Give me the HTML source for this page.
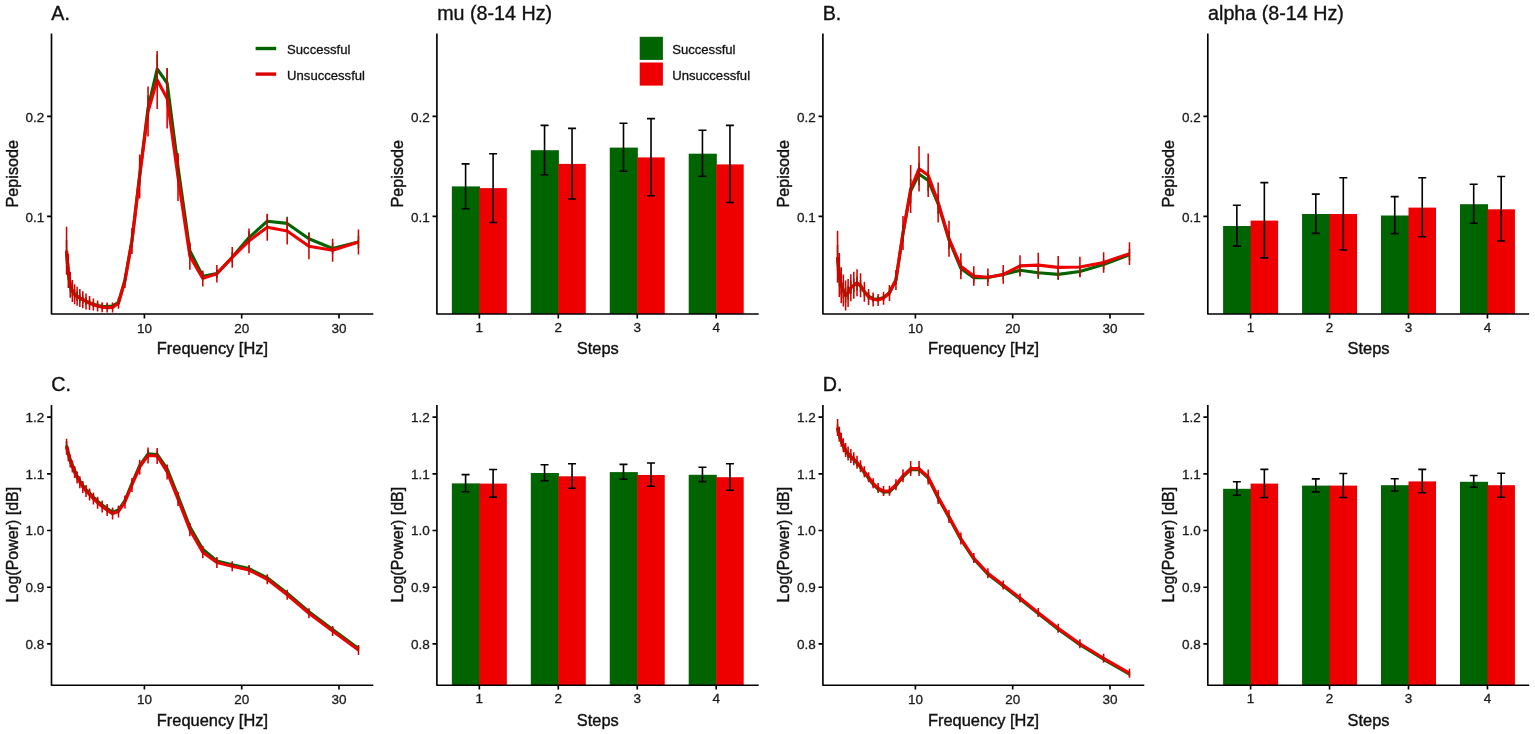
<!DOCTYPE html>
<html lang="en">
<head>
<meta charset="utf-8">
<title>Pepisode and power spectra: successful vs unsuccessful</title>
<style>
html,body{margin:0;padding:0;background:#fff;}
body{width:1535px;height:734px;overflow:hidden;}
svg{display:block;}
svg text{font-family:"Liberation Sans",sans-serif;fill:#111;}
.t{font-size:13.1px;fill:#111;stroke:#111;stroke-width:0.3px;}
.k{font-size:13.5px;fill:#1a1a1a;stroke:#1a1a1a;stroke-width:0.3px;}
.a{font-size:16.4px;stroke:#111;stroke-width:0.4px;}
.a2{font-size:16px;stroke:#111;stroke-width:0.4px;}
.a3{font-size:16.2px;stroke:#111;stroke-width:0.4px;}
.h{font-size:19.7px;stroke:#111;stroke-width:0.35px;}
</style>
</head>
<body>
<svg width="1535" height="734" viewBox="0 0 1535 734">
<rect width="100%" height="100%" fill="#fff"/>
<polyline points="66.56,252 68.32,272 70.24,285 72.34,291 74.62,294.3 77.11,296.3 79.83,298 82.79,299.5 86.02,301.2 89.54,302.8 93.38,304.3 97.57,305.6 102.14,306.4 107.12,306.5 112.56,306 118.48,302.3 124.94,280 131.99,240 139.67,175 148.05,108 157.18,69 167.15,83 178.01,167 189.86,250.7 202.78,276.2 216.87,273.6 232.24,257.2 248.99,237.6 267.26,221.2 287.19,223.4 308.92,238.7 332.62,248.5 358.46,242" fill="none" stroke="#006400" stroke-width="3.1" stroke-linejoin="round" stroke-linecap="butt"/>
<polyline points="66.56,250.7 68.32,271.1 70.24,284.8 72.34,290.9 74.62,294.3 77.11,296.3 79.83,298.1 82.79,299.7 86.02,301.4 89.54,303 93.38,304.6 97.57,306.1 102.14,307.2 107.12,307.6 112.56,307.4 118.48,303.3 124.94,281 131.99,241 139.67,176.5 148.05,111.5 157.18,80 167.15,98.4 178.01,177 189.86,256.1 202.78,278.4 216.87,273.8 232.24,257.4 248.99,240.9 267.26,227.3 287.19,231.1 308.92,246.3 332.62,250.2 358.46,242" fill="none" stroke="#ee0000" stroke-width="3.1" stroke-linejoin="round" stroke-linecap="butt"/>
<path d="M66.56 240V264M68.32 263.5V280.5M70.24 278.5V291.5M72.34 285.5V296.5M74.62 289.3V299.3M77.11 291.55V301.05M79.83 293.5V302.5M82.79 295.25V303.75M86.02 297.2V305.2M89.54 299.3V306.3M93.38 301.3V307.3M97.57 302.85V308.35M102.14 303.9V308.9M107.12 304V309M112.56 303.5V308.5M118.48 299.55V305.05M124.94 276.5V283.5M131.99 233.5V246.5M139.67 164V186M148.05 95.5V120.5M157.18 54.5V83.5M167.15 68V98M178.01 155V179M189.86 243.9V257.5M202.78 272.2V280.2M216.87 269.25V277.95M232.24 252V262.4M248.99 231.45V243.75M267.26 214.45V227.95M287.19 216.7V230.1M308.92 232.2V245.2M332.62 242.75V254.25M358.46 235.75V248.25" stroke="#006400" stroke-width="1.55" fill="none"/>
<path d="M66.56 226.7V274.7M68.32 254.1V288.1M70.24 271.8V297.8M72.34 279.9V301.9M74.62 284.3V304.3M77.11 286.8V305.8M79.83 289.1V307.1M82.79 291.2V308.2M86.02 293.4V309.4M89.54 296V310M93.38 298.6V310.6M97.57 300.6V311.6M102.14 302.2V312.2M107.12 302.6V312.6M112.56 302.4V312.4M118.48 297.8V308.8M124.94 274V288M131.99 228V254M139.67 154.5V198.5M148.05 86.5V136.5M157.18 51V109M167.15 68.4V128.4M178.01 153V201M189.86 242.5V269.7M202.78 270.4V286.4M216.87 265.1V282.5M232.24 247V267.8M248.99 228.6V253.2M267.26 213.8V240.8M287.19 217.7V244.5M308.92 233.3V259.3M332.62 238.7V261.7M358.46 229.5V254.5" stroke="#d40000" stroke-width="1.55" fill="none"/>
<path d="M51.5 33.4V314H373.3" fill="none" stroke="#000" stroke-width="1.65" stroke-linejoin="round"/>
<path d="M47.1 116.3H51.5M47.1 216.4H51.5" stroke="#000" stroke-width="1.65" fill="none"/>
<text x="44.4" y="121.55" text-anchor="end" class="k">0.2</text>
<text x="44.4" y="221.65" text-anchor="end" class="k">0.1</text>
<path d="M144.4 314V318.4M241.7 314V318.4M339 314V318.4" stroke="#000" stroke-width="1.65" fill="none"/>
<text x="144.4" y="332.6" text-anchor="middle" class="k">10</text>
<text x="241.7" y="332.6" text-anchor="middle" class="k">20</text>
<text x="339" y="332.6" text-anchor="middle" class="k">30</text>
<text x="212.4" y="354.3" text-anchor="middle" class="a">Frequency [Hz]</text>
<text transform="translate(17.5 173.7) rotate(-90)" text-anchor="middle" class="a3">Pepisode</text>
<text x="51.3" y="19.8" class="h">A.</text>
<polyline points="837.56,258 839.32,275.5 841.24,285.5 843.34,290.4 845.62,295 848.11,292.5 850.83,287.5 853.79,285.5 857.02,283.5 860.54,286 864.38,291.5 868.57,296 873.14,298.8 878.12,299.3 883.56,297.6 889.48,292.5 895.94,279.8 902.99,233.5 910.67,191 919.05,174 928.18,180.5 938.15,204 949.01,240 960.86,268.5 973.78,277.7 987.87,277.6 1003.24,274.6 1019.99,270.3 1038.26,272.8 1058.19,274.4 1079.92,271.5 1103.62,264.6 1129.46,254.8" fill="none" stroke="#006400" stroke-width="3.1" stroke-linejoin="round" stroke-linecap="butt"/>
<polyline points="837.56,256.8 839.32,274.9 841.24,285.2 843.34,290.4 845.62,295.6 848.11,293 850.83,287.8 853.79,285.2 857.02,282.7 860.54,285.2 864.38,291.7 868.57,296.9 873.14,299.5 878.12,300 883.56,298.2 889.48,293 895.94,280 902.99,233 910.67,189 919.05,168.8 928.18,175.3 938.15,202.4 949.01,238.7 960.86,266.2 973.78,276 987.87,277.2 1003.24,274.4 1019.99,265.9 1038.26,265.1 1058.19,267.4 1079.92,267 1103.62,262.5 1129.46,253.6" fill="none" stroke="#ee0000" stroke-width="3.1" stroke-linejoin="round" stroke-linecap="butt"/>
<path d="M837.56 245V271M839.32 264.5V286.5M841.24 276.5V294.5M843.34 282.4V298.4M845.62 287.5V302.5M848.11 285.5V299.5M850.83 280.75V294.25M853.79 278.75V292.25M857.02 276.75V290.25M860.54 280V292M864.38 286.5V296.5M868.57 292V300M873.14 295.3V302.3M878.12 296.3V302.3M883.56 294.35V300.85M889.48 288.5V296.5M895.94 274.8V284.8M902.99 225V242M910.67 179V203M919.05 162.7V185.3M928.18 169.65V191.35M938.15 194V214M949.01 231V249M960.86 262V275M973.78 272.85V282.55M987.87 273.25V281.95M1003.24 269.95V279.25M1019.99 265V275.6M1038.26 266.65V278.95M1058.19 268.7V280.1M1079.92 266.4V276.6M1103.62 259.5V269.7M1129.46 249.1V260.5" stroke="#006400" stroke-width="1.55" fill="none"/>
<path d="M837.56 230.8V282.8M839.32 252.9V296.9M841.24 267.2V303.2M843.34 274.4V306.4M845.62 280.6V310.6M848.11 279V307M850.83 274.3V301.3M853.79 271.7V298.7M857.02 269.2V296.2M860.54 273.2V297.2M864.38 281.7V301.7M868.57 288.9V304.9M873.14 292.5V306.5M878.12 294V306M883.56 291.7V304.7M889.48 285V301M895.94 270V290M902.99 216V250M910.67 165V213M919.05 146.2V191.4M928.18 153.6V197M938.15 182.4V222.4M949.01 220.7V256.7M960.86 253.2V279.2M973.78 266.3V285.7M987.87 268.5V285.9M1003.24 265.1V283.7M1019.99 255.3V276.5M1038.26 252.8V277.4M1058.19 256V278.8M1079.92 256.8V277.2M1103.62 252.3V272.7M1129.46 242.2V265" stroke="#d40000" stroke-width="1.55" fill="none"/>
<path d="M822.9 33.4V314H1144.3" fill="none" stroke="#000" stroke-width="1.65" stroke-linejoin="round"/>
<path d="M818.5 116.3H822.9M818.5 216.4H822.9" stroke="#000" stroke-width="1.65" fill="none"/>
<text x="815.8" y="121.55" text-anchor="end" class="k">0.2</text>
<text x="815.8" y="221.65" text-anchor="end" class="k">0.1</text>
<path d="M915.4 314V318.4M1012.7 314V318.4M1110 314V318.4" stroke="#000" stroke-width="1.65" fill="none"/>
<text x="915.4" y="332.6" text-anchor="middle" class="k">10</text>
<text x="1012.7" y="332.6" text-anchor="middle" class="k">20</text>
<text x="1110" y="332.6" text-anchor="middle" class="k">30</text>
<text x="983.6" y="354.3" text-anchor="middle" class="a">Frequency [Hz]</text>
<text transform="translate(788.9 173.7) rotate(-90)" text-anchor="middle" class="a3">Pepisode</text>
<text x="822.7" y="19.8" class="h">B.</text>
<polyline points="66.56,445.3 68.32,452.8 70.24,459.6 72.34,465.1 74.62,470.5 77.11,476 79.83,480.7 82.79,485.5 86.02,489.6 89.54,493 93.38,497.1 97.57,501.2 102.14,505 107.12,508.6 112.56,512.1 118.48,510 124.94,500.5 131.99,483.4 139.67,465.7 148.05,453.9 157.18,454.5 167.15,468.9 178.01,496.1 189.86,526.8 202.78,549.2 216.87,561 232.24,564.7 248.99,568.6 267.26,577.8 287.19,593.2 308.92,611.7 332.62,629.6 358.46,648.6" fill="none" stroke="#006400" stroke-width="3.1" stroke-linejoin="round" stroke-linecap="butt"/>
<polyline points="66.56,446.8 68.32,454.3 70.24,461.1 72.34,466.6 74.62,472 77.11,477.5 79.83,482.2 82.79,487 86.02,491.1 89.54,494.5 93.38,498.6 97.57,502.7 102.14,506.5 107.12,510.1 112.56,513.6 118.48,511.5 124.94,502 131.99,484.9 139.67,467.2 148.05,455.4 157.18,456 167.15,471.9 178.01,499.1 189.86,529.8 202.78,552.2 216.87,562.5 232.24,566.2 248.99,570.1 267.26,579.3 287.19,594.7 308.92,613.2 332.62,631.1 358.46,650.1" fill="none" stroke="#ee0000" stroke-width="3.1" stroke-linejoin="round" stroke-linecap="butt"/>
<path d="M66.56 441.3V449.3M68.32 449.3V456.3M70.24 456.35V462.85M72.34 462.1V468.1M74.62 467.5V473.5M77.11 473V479M79.83 477.7V483.7M82.79 482.5V488.5M86.02 486.6V492.6M89.54 490V496M93.38 494.1V500.1M97.57 498.2V504.2M102.14 502V508M107.12 505.6V511.6M112.56 509.1V515.1M118.48 507V513M124.94 497.25V503.75M131.99 479.9V486.9M139.67 461.95V469.45M148.05 449.9V457.9M157.18 450.5V458.5M167.15 465.15V472.65M178.01 492.6V499.6M189.86 523.55V530.05M202.78 546.2V552.2M216.87 558.25V563.75M232.24 562.2V567.2M248.99 566.1V571.1M267.26 575.3V580.3M287.19 590.7V595.7M308.92 609.2V614.2M332.62 627.1V632.1M358.46 646.1V651.1" stroke="#006400" stroke-width="1.55" fill="none"/>
<path d="M66.56 438.8V454.8M68.32 447.3V461.3M70.24 454.6V467.6M72.34 460.6V472.6M74.62 466V478M77.11 471.5V483.5M79.83 476.2V488.2M82.79 481V493M86.02 485.1V497.1M89.54 488.5V500.5M93.38 492.6V504.6M97.57 496.7V508.7M102.14 500.5V512.5M107.12 504.1V516.1M112.56 507.6V519.6M118.48 505.5V517.5M124.94 495.5V508.5M131.99 477.9V491.9M139.67 459.7V474.7M148.05 447.4V463.4M157.18 448V464M167.15 464.4V479.4M178.01 492.1V506.1M189.86 523.3V536.3M202.78 546.2V558.2M216.87 557V568M232.24 561.2V571.2M248.99 565.1V575.1M267.26 574.3V584.3M287.19 589.7V599.7M308.92 608.2V618.2M332.62 626.1V636.1M358.46 645.1V655.1" stroke="#d40000" stroke-width="1.55" fill="none"/>
<path d="M51.5 405V685.2H373.3" fill="none" stroke="#000" stroke-width="1.65" stroke-linejoin="round"/>
<path d="M47.1 417.1H51.5M47.1 473.9H51.5M47.1 530.5H51.5M47.1 587.2H51.5M47.1 643.9H51.5" stroke="#000" stroke-width="1.65" fill="none"/>
<text x="44.4" y="421.95" text-anchor="end" class="k">1.2</text>
<text x="44.4" y="478.75" text-anchor="end" class="k">1.1</text>
<text x="44.4" y="535.35" text-anchor="end" class="k">1.0</text>
<text x="44.4" y="592.05" text-anchor="end" class="k">0.9</text>
<text x="44.4" y="648.75" text-anchor="end" class="k">0.8</text>
<path d="M144.4 685.2V689.6M241.7 685.2V689.6M339 685.2V689.6" stroke="#000" stroke-width="1.65" fill="none"/>
<text x="144.4" y="703.8" text-anchor="middle" class="k">10</text>
<text x="241.7" y="703.8" text-anchor="middle" class="k">20</text>
<text x="339" y="703.8" text-anchor="middle" class="k">30</text>
<text x="212.4" y="725.5" text-anchor="middle" class="a">Frequency [Hz]</text>
<text transform="translate(17.5 544.6) rotate(-90)" text-anchor="middle" class="a2">Log(Power) [dB]</text>
<text x="51.3" y="391.1" class="h">C.</text>
<polyline points="837.56,428.5 839.32,435.3 841.24,440.7 843.34,446.2 845.62,451 848.11,454.4 850.83,457.1 853.79,459.8 857.02,463.2 860.54,467.3 864.38,472.8 868.57,478.2 873.14,484.3 878.12,489.1 883.56,492.1 889.48,491.8 895.94,485.7 902.99,476.8 910.67,469.6 919.05,469.6 928.18,478 938.15,498 949.01,517.5 960.86,539.5 973.78,559 987.87,574.2 1003.24,585.9 1019.99,599 1038.26,613.6 1058.19,629.3 1079.92,644.7 1103.62,659.3 1129.46,674.2" fill="none" stroke="#006400" stroke-width="3.1" stroke-linejoin="round" stroke-linecap="butt"/>
<polyline points="837.56,427.5 839.32,434.3 841.24,439.7 843.34,445.2 845.62,450 848.11,453.4 850.83,456.1 853.79,458.8 857.02,462.2 860.54,466.3 864.38,471.8 868.57,477.2 873.14,483.3 878.12,488.1 883.56,491.1 889.48,490.8 895.94,484.7 902.99,475.8 910.67,468.6 919.05,468.6 928.18,477 938.15,497 949.01,516.5 960.86,538.5 973.78,558 987.87,573.2 1003.24,584.9 1019.99,598 1038.26,612.6 1058.19,628.3 1079.92,643.7 1103.62,658.3 1129.46,673.2" fill="none" stroke="#ee0000" stroke-width="3.1" stroke-linejoin="round" stroke-linecap="butt"/>
<path d="M837.56 424.25V432.75M839.32 431.55V439.05M841.24 437.2V444.2M843.34 442.7V449.7M845.62 447.5V454.5M848.11 450.9V457.9M850.83 453.6V460.6M853.79 456.55V463.05M857.02 459.95V466.45M860.54 464.3V470.3M864.38 470.05V475.55M868.57 475.7V480.7M873.14 481.8V486.8M878.12 486.6V491.6M883.56 489.6V494.6M889.48 489.3V494.3M895.94 482.95V488.45M902.99 473.55V480.05M910.67 465.85V473.35M919.05 465.85V473.35M928.18 474.25V481.75M938.15 494.5V501.5M949.01 514.25V520.75M960.86 536.5V542.5M973.78 556.5V561.5M987.87 571.7V576.7M1003.24 583.65V588.15M1019.99 596.75V601.25M1038.26 611.35V615.85M1058.19 627.05V631.55M1079.92 642.45V646.95M1103.62 657.05V661.55M1129.46 671.95V676.45" stroke="#006400" stroke-width="1.55" fill="none"/>
<path d="M837.56 419V436M839.32 426.8V441.8M841.24 432.7V446.7M843.34 438.2V452.2M845.62 443V457M848.11 446.4V460.4M850.83 449.1V463.1M853.79 452.3V465.3M857.02 455.7V468.7M860.54 460.3V472.3M864.38 466.3V477.3M868.57 472.2V482.2M873.14 478.3V488.3M878.12 483.1V493.1M883.56 486.1V496.1M889.48 485.8V495.8M895.94 479.2V490.2M902.99 469.3V482.3M910.67 461.1V476.1M919.05 461.1V476.1M928.18 469.5V484.5M938.15 490V504M949.01 510V523M960.86 532.5V544.5M973.78 553V563M987.87 568.2V578.2M1003.24 580.4V589.4M1019.99 593.5V602.5M1038.26 608.1V617.1M1058.19 623.8V632.8M1079.92 639.2V648.2M1103.62 653.8V662.8M1129.46 668.7V677.7" stroke="#d40000" stroke-width="1.55" fill="none"/>
<path d="M822.9 405V685.2H1144.3" fill="none" stroke="#000" stroke-width="1.65" stroke-linejoin="round"/>
<path d="M818.5 417.1H822.9M818.5 473.9H822.9M818.5 530.5H822.9M818.5 587.2H822.9M818.5 643.9H822.9" stroke="#000" stroke-width="1.65" fill="none"/>
<text x="815.8" y="421.95" text-anchor="end" class="k">1.2</text>
<text x="815.8" y="478.75" text-anchor="end" class="k">1.1</text>
<text x="815.8" y="535.35" text-anchor="end" class="k">1.0</text>
<text x="815.8" y="592.05" text-anchor="end" class="k">0.9</text>
<text x="815.8" y="648.75" text-anchor="end" class="k">0.8</text>
<path d="M915.4 685.2V689.6M1012.7 685.2V689.6M1110 685.2V689.6" stroke="#000" stroke-width="1.65" fill="none"/>
<text x="915.4" y="703.8" text-anchor="middle" class="k">10</text>
<text x="1012.7" y="703.8" text-anchor="middle" class="k">20</text>
<text x="1110" y="703.8" text-anchor="middle" class="k">30</text>
<text x="983.6" y="725.5" text-anchor="middle" class="a">Frequency [Hz]</text>
<text transform="translate(788.9 544.6) rotate(-90)" text-anchor="middle" class="a2">Log(Power) [dB]</text>
<text x="822.7" y="391.1" class="h">D.</text>
<rect x="451.85" y="186.4" width="28.1" height="127.6" fill="#006400"/>
<rect x="479.35" y="188.1" width="27.5" height="125.9" fill="#ee0000"/>
<path d="M461.6 163.9H469.6M461.6 208.8H469.6M465.6 163.9V208.8" stroke="#000" stroke-width="1.6" fill="none"/>
<path d="M489.1 153.7H497.1M489.1 222.5H497.1M493.1 153.7V222.5" stroke="#000" stroke-width="1.6" fill="none"/>
<rect x="530.8" y="150.2" width="28.1" height="163.8" fill="#006400"/>
<rect x="558.3" y="163.9" width="27.5" height="150.1" fill="#ee0000"/>
<path d="M540.55 125.4H548.55M540.55 174.8H548.55M544.55 125.4V174.8" stroke="#000" stroke-width="1.6" fill="none"/>
<path d="M568.05 128.4H576.05M568.05 199H576.05M572.05 128.4V199" stroke="#000" stroke-width="1.6" fill="none"/>
<rect x="609.75" y="147.6" width="28.1" height="166.4" fill="#006400"/>
<rect x="637.25" y="157.4" width="27.5" height="156.6" fill="#ee0000"/>
<path d="M619.5 123.2H627.5M619.5 171.3H627.5M623.5 123.2V171.3" stroke="#000" stroke-width="1.6" fill="none"/>
<path d="M647 118.6H655M647 195.7H655M651 118.6V195.7" stroke="#000" stroke-width="1.6" fill="none"/>
<rect x="688.7" y="153.7" width="28.1" height="160.3" fill="#006400"/>
<rect x="716.2" y="164.4" width="27.5" height="149.6" fill="#ee0000"/>
<path d="M698.45 130.2H706.45M698.45 176.3H706.45M702.45 130.2V176.3" stroke="#000" stroke-width="1.6" fill="none"/>
<path d="M725.95 125.4H733.95M725.95 202.5H733.95M729.95 125.4V202.5" stroke="#000" stroke-width="1.6" fill="none"/>
<path d="M436.9 33.4V314H758.7" fill="none" stroke="#000" stroke-width="1.65" stroke-linejoin="round"/>
<path d="M432.5 116.3H436.9M432.5 216.4H436.9" stroke="#000" stroke-width="1.65" fill="none"/>
<text x="429.8" y="121.55" text-anchor="end" class="k">0.2</text>
<text x="429.8" y="221.65" text-anchor="end" class="k">0.1</text>
<path d="M479.35 314V318.4M558.3 314V318.4M637.25 314V318.4M716.2 314V318.4" stroke="#000" stroke-width="1.65" fill="none"/>
<text x="479.35" y="332.1" text-anchor="middle" class="k">1</text>
<text x="558.3" y="332.1" text-anchor="middle" class="k">2</text>
<text x="637.25" y="332.1" text-anchor="middle" class="k">3</text>
<text x="716.2" y="332.1" text-anchor="middle" class="k">4</text>
<text x="597.8" y="354.3" text-anchor="middle" class="a">Steps</text>
<text transform="translate(402.9 173.7) rotate(-90)" text-anchor="middle" class="a3">Pepisode</text>
<text x="437.2" y="19.5" class="h">mu (8-14 Hz)</text>
<rect x="1223.1" y="226" width="28.1" height="88" fill="#006400"/>
<rect x="1250.6" y="220.6" width="27.5" height="93.4" fill="#ee0000"/>
<path d="M1232.85 205.2H1240.85M1232.85 246.1H1240.85M1236.85 205.2V246.1" stroke="#000" stroke-width="1.6" fill="none"/>
<path d="M1260.35 182.6H1268.35M1260.35 257.9H1268.35M1264.35 182.6V257.9" stroke="#000" stroke-width="1.6" fill="none"/>
<rect x="1302.05" y="214" width="28.1" height="100" fill="#006400"/>
<rect x="1329.55" y="214" width="27.5" height="100" fill="#ee0000"/>
<path d="M1311.8 194.1H1319.8M1311.8 233.4H1319.8M1315.8 194.1V233.4" stroke="#000" stroke-width="1.6" fill="none"/>
<path d="M1339.3 177.7H1347.3M1339.3 250H1347.3M1343.3 177.7V250" stroke="#000" stroke-width="1.6" fill="none"/>
<rect x="1381" y="215.5" width="28.1" height="98.5" fill="#006400"/>
<rect x="1408.5" y="207.6" width="27.5" height="106.4" fill="#ee0000"/>
<path d="M1390.75 196.6H1398.75M1390.75 233.6H1398.75M1394.75 196.6V233.6" stroke="#000" stroke-width="1.6" fill="none"/>
<path d="M1418.25 177.7H1426.25M1418.25 236.8H1426.25M1422.25 177.7V236.8" stroke="#000" stroke-width="1.6" fill="none"/>
<rect x="1459.95" y="204.2" width="28.1" height="109.8" fill="#006400"/>
<rect x="1487.45" y="209.3" width="27.5" height="104.7" fill="#ee0000"/>
<path d="M1469.7 184.3H1477.7M1469.7 223.3H1477.7M1473.7 184.3V223.3" stroke="#000" stroke-width="1.6" fill="none"/>
<path d="M1497.2 176.5H1505.2M1497.2 241H1505.2M1501.2 176.5V241" stroke="#000" stroke-width="1.6" fill="none"/>
<path d="M1207.8 33.4V314H1529.2" fill="none" stroke="#000" stroke-width="1.65" stroke-linejoin="round"/>
<path d="M1203.4 116.3H1207.8M1203.4 216.4H1207.8" stroke="#000" stroke-width="1.65" fill="none"/>
<text x="1200.7" y="121.55" text-anchor="end" class="k">0.2</text>
<text x="1200.7" y="221.65" text-anchor="end" class="k">0.1</text>
<path d="M1250.6 314V318.4M1329.55 314V318.4M1408.5 314V318.4M1487.45 314V318.4" stroke="#000" stroke-width="1.65" fill="none"/>
<text x="1250.6" y="332.1" text-anchor="middle" class="k">1</text>
<text x="1329.55" y="332.1" text-anchor="middle" class="k">2</text>
<text x="1408.5" y="332.1" text-anchor="middle" class="k">3</text>
<text x="1487.45" y="332.1" text-anchor="middle" class="k">4</text>
<text x="1368.5" y="354.3" text-anchor="middle" class="a">Steps</text>
<text transform="translate(1173.8 173.7) rotate(-90)" text-anchor="middle" class="a3">Pepisode</text>
<text x="1208.1" y="19.5" class="h">alpha (8-14 Hz)</text>
<rect x="451.85" y="483.4" width="28.1" height="201.8" fill="#006400"/>
<rect x="479.35" y="483.6" width="27.5" height="201.6" fill="#ee0000"/>
<path d="M461.6 474.6H469.6M461.6 491.8H469.6M465.6 474.6V491.8" stroke="#000" stroke-width="1.6" fill="none"/>
<path d="M489.1 469.5H497.1M489.1 497.1H497.1M493.1 469.5V497.1" stroke="#000" stroke-width="1.6" fill="none"/>
<rect x="530.8" y="473" width="28.1" height="212.2" fill="#006400"/>
<rect x="558.3" y="476.3" width="27.5" height="208.9" fill="#ee0000"/>
<path d="M540.55 464.8H548.55M540.55 480.8H548.55M544.55 464.8V480.8" stroke="#000" stroke-width="1.6" fill="none"/>
<path d="M568.05 463.7H576.05M568.05 488.3H576.05M572.05 463.7V488.3" stroke="#000" stroke-width="1.6" fill="none"/>
<rect x="609.75" y="472.1" width="28.1" height="213.1" fill="#006400"/>
<rect x="637.25" y="475" width="27.5" height="210.2" fill="#ee0000"/>
<path d="M619.5 464.4H627.5M619.5 479.2H627.5M623.5 464.4V479.2" stroke="#000" stroke-width="1.6" fill="none"/>
<path d="M647 463H655M647 486.3H655M651 463V486.3" stroke="#000" stroke-width="1.6" fill="none"/>
<rect x="688.7" y="474.8" width="28.1" height="210.4" fill="#006400"/>
<rect x="716.2" y="477.2" width="27.5" height="208" fill="#ee0000"/>
<path d="M698.45 467.2H706.45M698.45 481.6H706.45M702.45 467.2V481.6" stroke="#000" stroke-width="1.6" fill="none"/>
<path d="M725.95 463.7H733.95M725.95 490.3H733.95M729.95 463.7V490.3" stroke="#000" stroke-width="1.6" fill="none"/>
<path d="M436.9 405V685.2H758.7" fill="none" stroke="#000" stroke-width="1.65" stroke-linejoin="round"/>
<path d="M432.5 417.1H436.9M432.5 473.9H436.9M432.5 530.5H436.9M432.5 587.2H436.9M432.5 643.9H436.9" stroke="#000" stroke-width="1.65" fill="none"/>
<text x="429.8" y="421.95" text-anchor="end" class="k">1.2</text>
<text x="429.8" y="478.75" text-anchor="end" class="k">1.1</text>
<text x="429.8" y="535.35" text-anchor="end" class="k">1.0</text>
<text x="429.8" y="592.05" text-anchor="end" class="k">0.9</text>
<text x="429.8" y="648.75" text-anchor="end" class="k">0.8</text>
<path d="M479.35 685.2V689.6M558.3 685.2V689.6M637.25 685.2V689.6M716.2 685.2V689.6" stroke="#000" stroke-width="1.65" fill="none"/>
<text x="479.35" y="703.3" text-anchor="middle" class="k">1</text>
<text x="558.3" y="703.3" text-anchor="middle" class="k">2</text>
<text x="637.25" y="703.3" text-anchor="middle" class="k">3</text>
<text x="716.2" y="703.3" text-anchor="middle" class="k">4</text>
<text x="597.8" y="725.5" text-anchor="middle" class="a">Steps</text>
<text transform="translate(402.9 544.6) rotate(-90)" text-anchor="middle" class="a2">Log(Power) [dB]</text>
<rect x="1223.1" y="488.8" width="28.1" height="196.4" fill="#006400"/>
<rect x="1250.6" y="483.6" width="27.5" height="201.6" fill="#ee0000"/>
<path d="M1232.85 481.8H1240.85M1232.85 495.3H1240.85M1236.85 481.8V495.3" stroke="#000" stroke-width="1.6" fill="none"/>
<path d="M1260.35 469.4H1268.35M1260.35 497.5H1268.35M1264.35 469.4V497.5" stroke="#000" stroke-width="1.6" fill="none"/>
<rect x="1302.05" y="485.6" width="28.1" height="199.6" fill="#006400"/>
<rect x="1329.55" y="485.6" width="27.5" height="199.6" fill="#ee0000"/>
<path d="M1311.8 478.9H1319.8M1311.8 491.9H1319.8M1315.8 478.9V491.9" stroke="#000" stroke-width="1.6" fill="none"/>
<path d="M1339.3 473.5H1347.3M1339.3 497.5H1347.3M1343.3 473.5V497.5" stroke="#000" stroke-width="1.6" fill="none"/>
<rect x="1381" y="485.2" width="28.1" height="200" fill="#006400"/>
<rect x="1408.5" y="481.4" width="27.5" height="203.8" fill="#ee0000"/>
<path d="M1390.75 478.7H1398.75M1390.75 491H1398.75M1394.75 478.7V491" stroke="#000" stroke-width="1.6" fill="none"/>
<path d="M1418.25 469.4H1426.25M1418.25 492.8H1426.25M1422.25 469.4V492.8" stroke="#000" stroke-width="1.6" fill="none"/>
<rect x="1459.95" y="481.8" width="28.1" height="203.4" fill="#006400"/>
<rect x="1487.45" y="485.2" width="27.5" height="200" fill="#ee0000"/>
<path d="M1469.7 475.5H1477.7M1469.7 487.2H1477.7M1473.7 475.5V487.2" stroke="#000" stroke-width="1.6" fill="none"/>
<path d="M1497.2 473.3H1505.2M1497.2 497.3H1505.2M1501.2 473.3V497.3" stroke="#000" stroke-width="1.6" fill="none"/>
<path d="M1207.8 405V685.2H1529.2" fill="none" stroke="#000" stroke-width="1.65" stroke-linejoin="round"/>
<path d="M1203.4 417.1H1207.8M1203.4 473.9H1207.8M1203.4 530.5H1207.8M1203.4 587.2H1207.8M1203.4 643.9H1207.8" stroke="#000" stroke-width="1.65" fill="none"/>
<text x="1200.7" y="421.95" text-anchor="end" class="k">1.2</text>
<text x="1200.7" y="478.75" text-anchor="end" class="k">1.1</text>
<text x="1200.7" y="535.35" text-anchor="end" class="k">1.0</text>
<text x="1200.7" y="592.05" text-anchor="end" class="k">0.9</text>
<text x="1200.7" y="648.75" text-anchor="end" class="k">0.8</text>
<path d="M1250.6 685.2V689.6M1329.55 685.2V689.6M1408.5 685.2V689.6M1487.45 685.2V689.6" stroke="#000" stroke-width="1.65" fill="none"/>
<text x="1250.6" y="703.3" text-anchor="middle" class="k">1</text>
<text x="1329.55" y="703.3" text-anchor="middle" class="k">2</text>
<text x="1408.5" y="703.3" text-anchor="middle" class="k">3</text>
<text x="1487.45" y="703.3" text-anchor="middle" class="k">4</text>
<text x="1368.5" y="725.5" text-anchor="middle" class="a">Steps</text>
<text transform="translate(1173.8 544.6) rotate(-90)" text-anchor="middle" class="a2">Log(Power) [dB]</text>
<path d="M255.6 48.5H276.2" stroke="#006400" stroke-width="3.4"/>
<path d="M255.6 74.1H276.2" stroke="#dd0000" stroke-width="3.4"/>
<text x="287.1" y="54.2" class="t">Successful</text>
<text x="287.1" y="79.8" class="t">Unsuccessful</text>
<rect x="639.7" y="36.8" width="23.2" height="23.1" fill="#006400"/>
<rect x="639.7" y="62.5" width="23.2" height="23.1" fill="#ee0000"/>
<text x="672.2" y="53.9" class="t">Successful</text>
<text x="672.2" y="79.5" class="t">Unsuccessful</text>
</svg>
</body>
</html>
